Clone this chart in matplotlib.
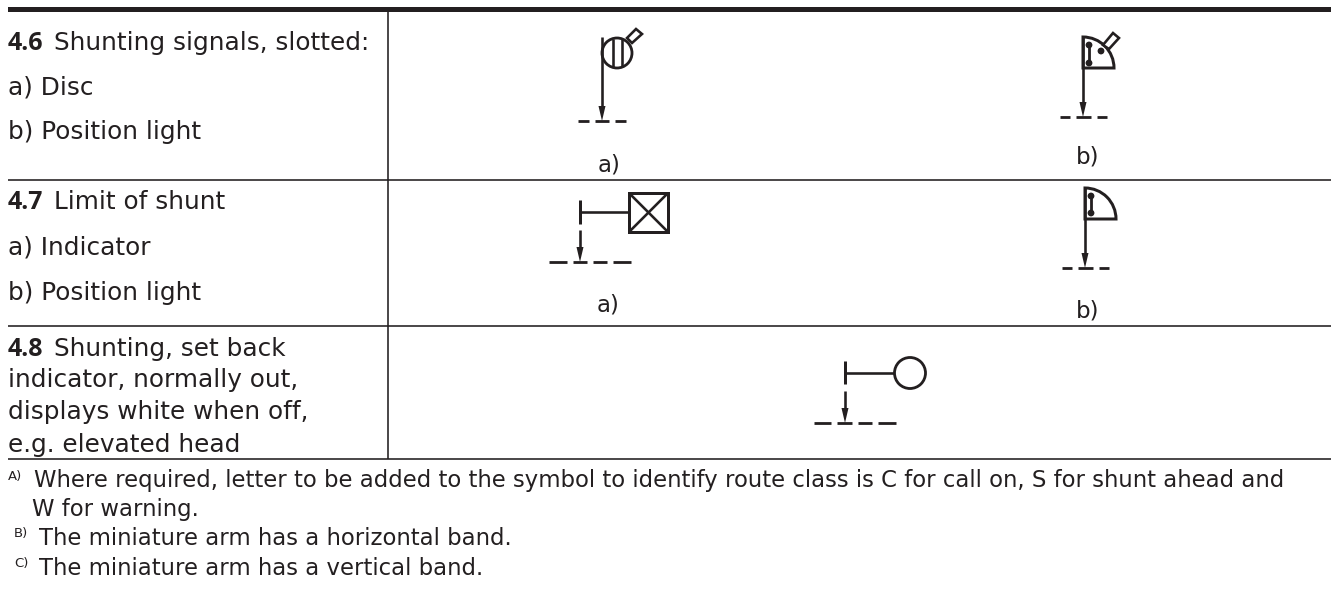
import matplotlib
matplotlib.use("Agg")
import matplotlib.pyplot as plt
from matplotlib.patches import Circle, Polygon, Rectangle, Wedge

# layout is read in reference pixels, y pointing down
WIDTH = 1331
HEIGHT = 590
INK = "#231f20"
PX = 0.72

row_rules = [179.5, 326, 459]
divider_x = 388

left_bold = ["4.6", "4.7", "4.8"]
left_bold_y = [50, 209, 356]
left_lines = [
    (54, 50, "Shunting signals, slotted:"),
    (8, 95, "a) Disc"),
    (8, 139, "b) Position light"),
    (54, 209, "Limit of shunt"),
    (8, 255, "a) Indicator"),
    (8, 300, "b) Position light"),
    (54, 356, "Shunting, set back"),
    (8, 387, "indicator, normally out,"),
    (8, 419, "displays white when off,"),
    (8, 452, "e.g. elevated head"),
]

footnote_marks = [(8, 480, "A)"), (14, 537, "B)"), (14, 567, "C)")]
footnotes = [
    (34, 487, "Where required, letter to be added to the symbol to identify route class is C for call on, S for shunt ahead and"),
    (32, 516, "W for warning."),
    (39, 545, "The miniature arm has a horizontal band."),
    (39, 575, "The miniature arm has a vertical band."),
]

sub_labels = [
    (609, 172, "a)"),
    (1088, 164, "b)"),
    (608, 312, "a)"),
    (1088, 318, "b)"),
]

plt.rcParams["font.family"] = ["DejaVu Sans"]

fig = plt.figure(figsize=(WIDTH / 100, HEIGHT / 100), dpi=100)
ax = fig.add_axes([0, 0, 1, 1])
ax.set_xlim(0, WIDTH)
ax.set_ylim(HEIGHT, 0)
ax.axis("off")


def line(xs, ys, width=2.6):
    ax.plot(xs, ys, color=INK, lw=width * PX, solid_capstyle="butt", zorder=3)


def arrow_line(x, top, tip, head=15):
    line([x, x], [top, tip - head + 2], 2.6)
    ax.add_patch(Polygon([(x - 3.5, tip - head), (x + 3.5, tip - head), (x, tip)], closed=True, fc=INK, ec="none", zorder=3))


def dashes(y, spans):
    for x0, x1 in spans:
        line([x0, x1], [y, y], 2.8)


def quadrant(cx, cy, r):
    # y axis is flipped, so the top right quarter runs from 270 to 360
    ax.add_patch(Wedge((cx, cy), r, 270, 360, fc="white", ec=INK, lw=3.0 * PX, zorder=2))


def lights(x, y0, y1):
    line([x, x], [y0, y1], 2.8)
    for y in (y0, y1):
        ax.add_patch(Circle((x, y), 3.4, fc=INK, ec="none", zorder=3))


def slot_arm(points):
    ax.add_patch(Polygon(points, closed=True, fc="white", ec=INK, lw=2.6 * PX, zorder=3))


# table rules
ax.add_patch(Rectangle((8, 7), 1323, 5, fc=INK, ec="none"))
for y in row_rules:
    line([8, WIDTH], [y, y], 1.6)
line([divider_x, divider_x], [12, row_rules[-1]], 1.6)

for label, y in zip(left_bold, left_bold_y):
    ax.text(8, y, label, fontsize=18, fontweight="bold", family=["Open Sans", "DejaVu Sans"], color=INK, va="baseline")
for x, y, text in left_lines:
    ax.text(x, y, text, fontsize=17.8, color=INK, va="baseline")
for x, y, text in sub_labels:
    ax.text(x, y, text, fontsize=16.5, color=INK, ha="center", va="baseline")
for x, y, text in footnote_marks:
    ax.text(x, y, text, fontsize=9.5, color=INK, va="baseline")
for x, y, text in footnotes:
    ax.text(x, y, text, fontsize=16.4, color=INK, va="baseline")

# 4.6 a) slotted disc
arrow_line(602, 37, 121)
ax.add_patch(Circle((617, 53), 15, fc="white", ec=INK, lw=2.8 * PX, zorder=2))
line([613, 613], [39, 67], 2.6)
line([622, 622], [39, 67], 2.6)
slot_arm([(627, 38), (636, 29), (642, 34), (632, 43)])
dashes(121, [(578, 589), (595, 609), (615, 626)])

# 4.6 b) slotted position light
quadrant(1083, 68, 31)
arrow_line(1083, 37, 117)
lights(1089, 45, 63)
ax.add_patch(Circle((1101, 51), 3.4, fc=INK, ec="none", zorder=3))
slot_arm([(1103, 45), (1113, 33), (1119, 38), (1109, 49)])
dashes(117, [(1060, 1070), (1076, 1091), (1097, 1107)])

# 4.7 a) limit of shunt indicator
line([580, 580], [200, 224], 3.0)
line([580, 629], [212, 212], 2.6)
ax.add_patch(Rectangle((629, 193), 39, 39, fc="white", ec=INK, lw=3.0 * PX, zorder=2))
line([629, 668], [193, 232], 2.6)
line([629, 668], [232, 193], 2.6)
arrow_line(580, 230, 262)
dashes(262, [(549, 567), (573, 587), (593, 607), (613, 631)])

# 4.7 b) position light
quadrant(1085, 219, 31)
arrow_line(1085, 188, 268)
lights(1091, 196, 213)
dashes(268, [(1062, 1072), (1078, 1093), (1099, 1109)])

# 4.8 set back indicator
line([845, 845], [361, 384], 3.0)
line([845, 894], [373, 373], 2.6)
ax.add_patch(Circle((910, 373), 15.5, fc="white", ec=INK, lw=2.8 * PX, zorder=2))
arrow_line(845, 391, 423)
dashes(423, [(814, 831), (837, 852), (858, 872), (878, 896)])

fig.savefig("out.png", dpi=100, facecolor="white")
